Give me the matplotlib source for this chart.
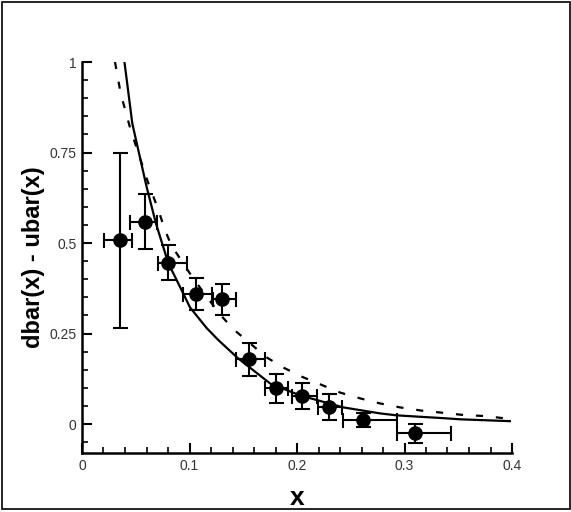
import matplotlib
matplotlib.use("Agg")
import matplotlib.pyplot as plt
from matplotlib.patches import Rectangle
from matplotlib.ticker import MultipleLocator, FixedLocator, FixedFormatter

# ---- data ----
data_x = [0.0353, 0.0586, 0.0803, 0.106, 0.1305, 0.155, 0.1805, 0.205, 0.230, 0.2617, 0.3098]
data_y = [0.508, 0.559, 0.446, 0.358, 0.345, 0.179, 0.0985, 0.077, 0.046, 0.011, -0.026]
data_yerr = [0.242, 0.076, 0.048, 0.044, 0.043, 0.045, 0.040, 0.035, 0.036, 0.019, 0.026]
data_xerr_lo = [0.015, 0.014, 0.010, 0.012, 0.0085, 0.0115, 0.0102, 0.0099, 0.0102, 0.019, 0.0165]
data_xerr_hi = [0.0115, 0.011, 0.017, 0.0146, 0.0124, 0.0149, 0.0115, 0.0133, 0.0115, 0.031, 0.033]

solid_x = [0.0395, 0.0468, 0.0601, 0.0688, 0.0803, 0.088, 0.1005, 0.116, 0.1268, 0.145,
           0.175, 0.203, 0.243, 0.277, 0.2927, 0.339, 0.352, 0.398]
solid_y = [1.0, 0.830, 0.655, 0.554, 0.444, 0.398, 0.322, 0.265, 0.232, 0.182,
           0.112, 0.079, 0.046, 0.0295, 0.024, 0.0157, 0.013, 0.008]

dash_x = [0.0307, 0.036, 0.0453, 0.0617, 0.070, 0.0772, 0.0830, 0.1035, 0.128, 0.1408,
          0.1718, 0.1873, 0.2043, 0.223, 0.240, 0.2586, 0.2772, 0.2958, 0.316, 0.336,
          0.3547, 0.375, 0.3935]
dash_y = [1.0, 0.913, 0.812, 0.665, 0.600, 0.536, 0.494, 0.402, 0.304, 0.262,
          0.184, 0.156, 0.131, 0.108, 0.087, 0.071, 0.057, 0.046, 0.037, 0.031,
          0.025, 0.022, 0.0157]

x_ticks = [0, 0.1, 0.2, 0.3, 0.4]
x_tick_labels = ["0", "0.1", "0.2", "0.3", "0.4"]
y_ticks = [0, 0.25, 0.5, 0.75, 1]
y_tick_labels = ["0", "0.25", "0.5", "0.75", "1"]

plt.rcParams['font.family'] = ['Liberation Sans', 'DejaVu Sans']

W, H = 571, 512
fig = plt.figure(figsize=(W / 100, H / 100), dpi=100)
ax = fig.add_axes([82 / W, (H - 453) / H, 430 / W, 391 / H])

ax.plot(solid_x, solid_y, color='black', lw=1.6, solid_joinstyle='round')
ax.plot(dash_x, dash_y, color='black', lw=1.6, dashes=(3.2, 5.8))

ax.errorbar(data_x, data_y, yerr=data_yerr, xerr=[data_xerr_lo, data_xerr_hi],
            fmt='o', color='black', ms=9.5, elinewidth=1.5, capsize=5.4, capthick=1.5,
            zorder=5)

ax.set_xlim(0, 0.4)
ax.set_ylim(-0.08, 1.0)

for s in ['top', 'right']:
    ax.spines[s].set_visible(False)
for s in ['left', 'bottom']:
    ax.spines[s].set_linewidth(1.8)

ax.xaxis.set_major_locator(FixedLocator(x_ticks))
ax.xaxis.set_major_formatter(FixedFormatter(x_tick_labels))
ax.yaxis.set_major_locator(FixedLocator(y_ticks))
ax.yaxis.set_major_formatter(FixedFormatter(y_tick_labels))
ax.xaxis.set_minor_locator(MultipleLocator(0.02))
ax.yaxis.set_minor_locator(MultipleLocator(0.05))

ax.tick_params(which='major', direction='in', length=7, width=1.5, labelsize=10,
               labelcolor='#333333', pad=4)
ax.tick_params(which='minor', direction='in', length=4, width=1.2)

ax.set_xlabel('x', fontsize=19, fontweight='bold')
ax.xaxis.label.set_va('baseline')
ax.xaxis.set_label_coords(0.5, -0.133)
ax.set_ylabel('dbar(x) - ubar(x)', fontsize=17, fontweight='bold')
ax.yaxis.label.set_va('center')
ax.yaxis.set_label_coords(-0.112, 0.5)

fig.patches.append(Rectangle((1.5 / W, 3 / H), (568 / W), (507 / H), transform=fig.transFigure,
                             fill=False, edgecolor='black', lw=1.2))

fig.savefig('out.png', dpi=100)
